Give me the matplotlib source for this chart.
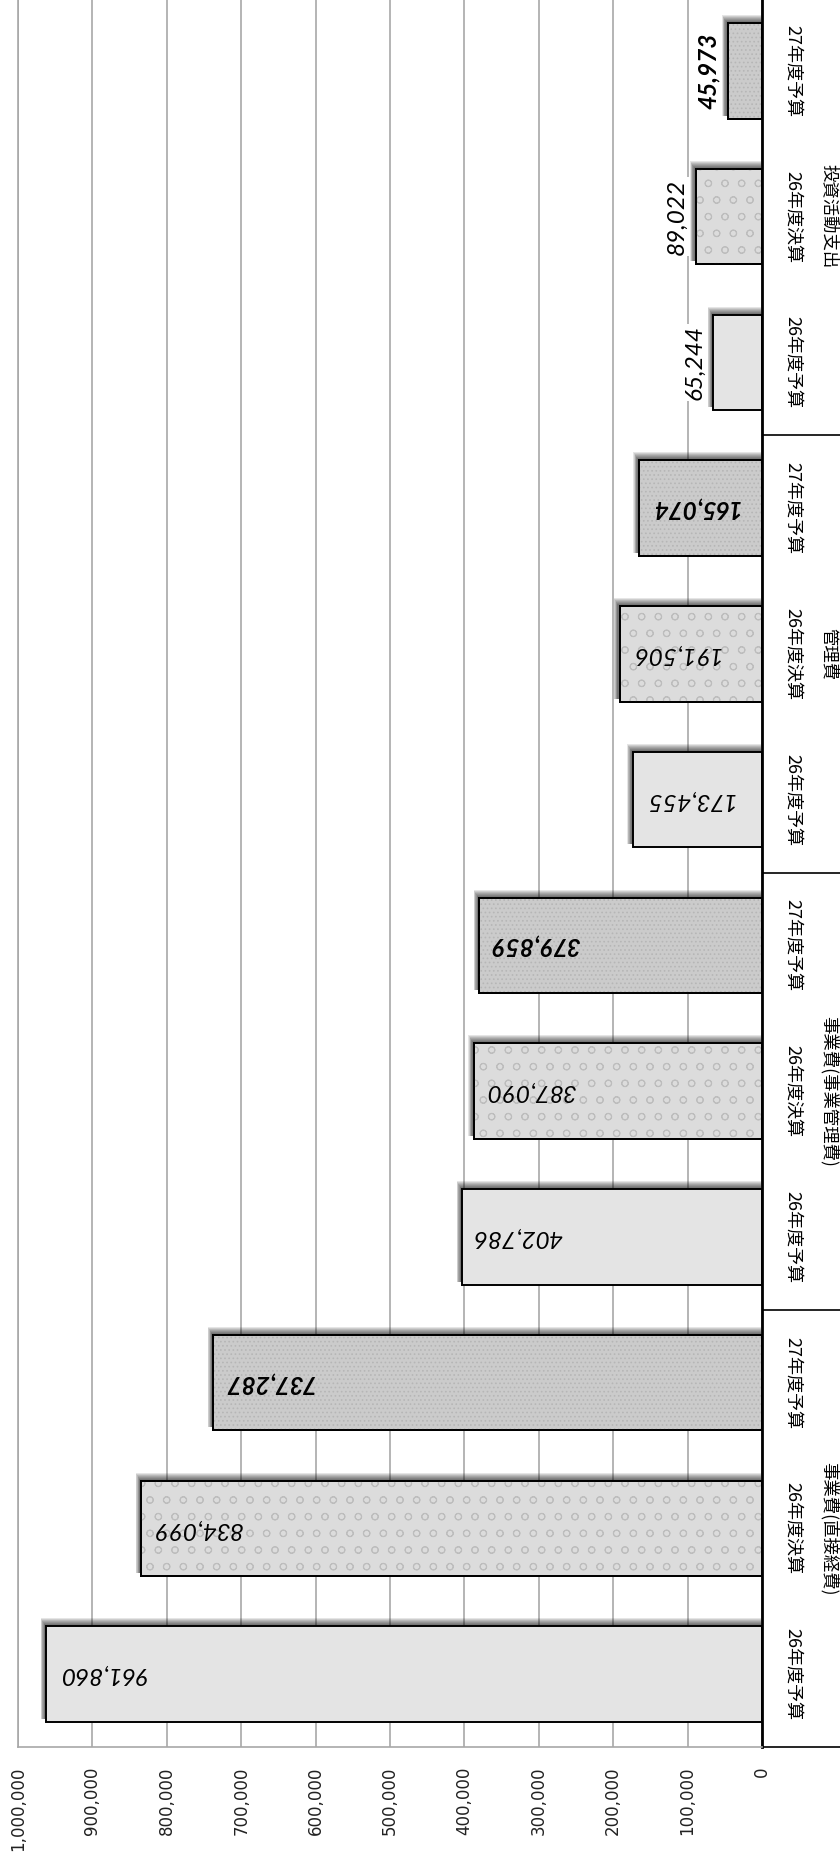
import matplotlib
matplotlib.use('Agg')
import matplotlib.pyplot as plt
from matplotlib.patches import Rectangle
from matplotlib.transforms import blended_transform_factory, IdentityTransform

# ---------------- data ----------------
groups = ['事業費(直接経費)', '事業費(事業管理費)', '管理費', '投資活動支出']
periods = ['26年度予算', '26年度決算', '27年度予算']
values = [961860, 834099, 737287,
          402786, 387090, 379859,
          173455, 191506, 165074,
          65244, 89022, 45973]
value_ticks = [0, 100000, 200000, 300000, 400000, 500000,
               600000, 700000, 800000, 900000, 1000000]

# ---------------- style ----------------
face_colors = ['#e4e4e4', '#dcdcdc', '#cbcbcb']
hatches = [None, 'o', '....']
hatch_colors = [None, '#bdbdbd', '#b6b6b6']
cjk = ['Noto Sans CJK JP', 'DejaVu Sans']
plt.rcParams['hatch.linewidth'] = 0.7

W, H = 840, 1859
fig = plt.figure(figsize=(W / 100, H / 100), dpi=100)
ax_left, ax_right, ax_bottom, ax_top = 18, 762, 1747, -2
ax = fig.add_axes([ax_left / W, (H - ax_bottom) / H,
                   (ax_right - ax_left) / W, (ax_bottom - ax_top) / H])

n = len(values)
ypos = list(range(n))
bar_h = 0.655

ax.set_xlim(1000000, 0)
ax.set_ylim(-0.5, n - 0.5)

# grid / spines
ax.set_axisbelow(True)
ax.grid(axis='x', color='#a8a8a8', lw=1.2, zorder=0.5)
ax.grid(axis='y', visible=False)
ax.spines['top'].set_visible(False)
ax.spines['left'].set_color('#a8a8a8')
ax.spines['left'].set_linewidth(1.2)
ax.spines['bottom'].set_color('#a8a8a8')
ax.spines['bottom'].set_linewidth(1.2)
ax.spines['right'].set_color('black')
ax.spines['right'].set_linewidth(2.0)
ax.set_yticks([])
ax.set_xticks(value_ticks)
ax.set_xticklabels([f'{v:,}' for v in value_ticks], rotation=90,
                   fontsize=12, family='DejaVu Sans', color='#222222')
ax.tick_params(axis='x', length=0, pad=14)

# shadows (computed in display space from the data transform)
for i, v in enumerate(values):
    (x0, y0) = ax.transData.transform((v, ypos[i] - bar_h / 2))
    (x1, y1) = ax.transData.transform((0, ypos[i] + bar_h / 2))
    xmin, xmax = min(x0, x1), max(x0, x1)
    ymin, ymax = min(y0, y1), max(y0, y1)
    for s in range(1, 8):
        r = Rectangle((xmin - 1.5 - 0.6 * s, ymin + 3),
                      (xmax - xmin) + 1.5 + 0.6 * s - 1,
                      (ymax - ymin) - 3 + s + 1,
                      transform=IdentityTransform(), facecolor='black',
                      edgecolor='none', alpha=0.1, zorder=1.5,
                      clip_on=False)
        ax.add_artist(r)

# bars
for i, v in enumerate(values):
    k = i % 3
    ax.barh(ypos[i], v, height=bar_h, color=face_colors[k],
            edgecolor='black', linewidth=1.4, zorder=2)
    if hatches[k]:
        ax.barh(ypos[i], v, height=bar_h, color='none', hatch=hatches[k],
                edgecolor=hatch_colors[k], linewidth=0, zorder=2.1)
        ax.barh(ypos[i], v, height=bar_h, color='none',
                edgecolor='black', linewidth=1.4, zorder=2.2)

# value labels
for i, v in enumerate(values):
    k = i % 3
    weight = 'bold' if k == 2 else 'normal'
    if v > 150000:
        ax.annotate(f'{v:,}', xy=(v, ypos[i]), xytext=(7.5, 0),
                    textcoords='offset points', rotation=180,
                    rotation_mode='anchor', ha='right', va='center',
                    fontsize=17.5, style='italic', weight=weight,
                    family='Lato', color='black', zorder=5)
    else:
        ax.annotate(f'{v:,}', xy=(v, ypos[i]), xytext=(-6, 0),
                    textcoords='offset points', rotation=90,
                    rotation_mode='anchor', ha='center', va='bottom',
                    fontsize=17.5, style='italic', weight=weight,
                    family='Lato', color='black', zorder=5,
                    bbox=dict(boxstyle='square,pad=0.05', fc='white', ec='none'))

# multi-level category axis on the right
tr = blended_transform_factory(ax.transAxes, ax.transData)
axw = ax_right - ax_left
x_lvl1 = 1 + (793 - ax_right) / axw
x_lvl2 = 1 + (829 - ax_right) / axw
for i in range(n):
    ax.text(x_lvl1, ypos[i], periods[i % 3], transform=tr, rotation=-90,
            ha='center', va='center', fontsize=13, family=cjk,
            color='black', clip_on=False)
for g, name in enumerate(groups):
    ax.text(x_lvl2, 3 * g + 1, name, transform=tr, rotation=-90,
            ha='center', va='center', fontsize=12.5, family=cjk,
            color='black', clip_on=False)
for g in range(len(groups)):
    b = 3 * g - 0.5
    ax.plot([1.0, 1.2], [b, b], transform=tr, color='black', lw=1.2,
            clip_on=False, solid_capstyle='butt')

fig.savefig('out.png', dpi=100)
